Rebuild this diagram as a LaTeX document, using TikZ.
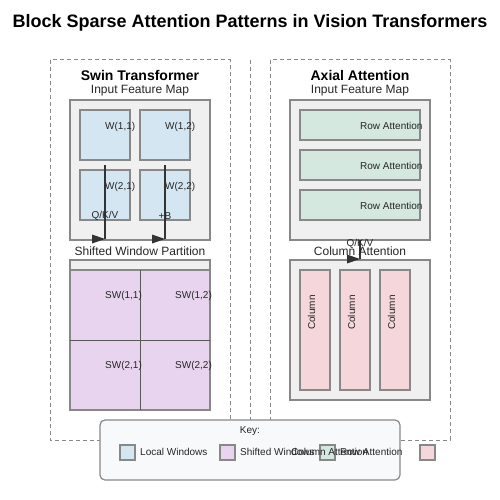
\documentclass[tikz,border=0pt]{standalone}
\usepackage{fontspec}
\setmainfont{Liberation Sans}
\definecolor{winblue}{HTML}{D4E6F1}
\definecolor{winpurple}{HTML}{E8D4EE}
\definecolor{rowgreen}{HTML}{D4E8DF}
\definecolor{colpink}{HTML}{F5D6DA}
\definecolor{boxgrey}{HTML}{F0F0F0}
\definecolor{strokegrey}{HTML}{888888}
\definecolor{darkline}{HTML}{333333}
\definecolor{legendfill}{HTML}{F8F9FA}
\begin{document}
\begin{tikzpicture}[x=1pt,y=-1pt,
  panel/.style={draw=strokegrey, line width=1pt, dash pattern=on 4pt off 3pt},
  greybox/.style={draw=strokegrey, fill=boxgrey, line width=1.5pt, inner sep=0pt},
  winbox/.style={draw=strokegrey, fill=winblue, line width=1.2pt, inner sep=0pt, minimum width=50, minimum height=50},
  swbox/.style={fill=winpurple, inner sep=0pt, minimum width=70, minimum height=70},
  rowbox/.style={draw=strokegrey, fill=rowgreen, line width=1.2pt, inner sep=0pt, minimum width=120, minimum height=30},
  colbox/.style={draw=strokegrey, fill=colpink, line width=1.2pt, inner sep=0pt, minimum width=30, minimum height=120},
  keybox/.style={draw=strokegrey, line width=1.2pt, inner sep=0pt, minimum width=15, minimum height=15},
  lbl/.style={inner sep=0pt, font=\fontsize{10}{12}\selectfont, text=black!85},
  head/.style={inner sep=0pt, font=\fontsize{14}{16}\selectfont\bfseries},
  sub/.style={inner sep=0pt, font=\fontsize{12}{14}\selectfont, text=black!85},
  arrowline/.style={draw=darkline, line width=1.5pt},
  tip/.style={fill=darkline},
  divline/.style={draw=black!65, line width=1.2pt}
]
\useasboundingbox (0,0) rectangle (500,500);
\fill[white] (0,0) rectangle (500,500);

% title
\node[inner sep=0pt, font=\fontsize{18}{21}\selectfont\bfseries] (title) at (250,23) {Block Sparse Attention Patterns in Vision Transformers};

% panels
\draw[panel] (50,60) rectangle (230,440);
\draw[panel] (270,60) rectangle (450,440);
\coordinate (divtop) at (250,60);
\coordinate (divbot) at (250,440);
\draw[panel] (divtop) -- (divbot);

% ---------- Swin ----------
\node[head] (swinhead) at (140,75) {Swin Transformer};
\node[sub] (swinin) at (140,91) {Input Feature Map};
\node[greybox, minimum width=140, minimum height=140] (swingrid) at (140,170) {};
\node[winbox] (w11) at (105,135) {};
\node[winbox] (w12) at (165,135) {};
\node[winbox] (w21) at (105,195) {};
\node[winbox] (w22) at (165,195) {};
\node[lbl, anchor=west] (lw11) at (105,127) {W(1,1)};
\node[lbl, anchor=west] (lw12) at (165,127) {W(1,2)};
\node[lbl, anchor=west] (lw21) at (105,187) {W(2,1)};
\node[lbl, anchor=west] (lw22) at (165,187) {W(2,2)};

\coordinate (a1s) at (105,165);
\coordinate (a1e) at (105,239);
\coordinate (a2s) at (165,165);
\coordinate (a2e) at (165,239);
\draw[arrowline] (a1s) -- (a1e);
\draw[arrowline] (a2s) -- (a2e);
\fill[tip] (92,234.5) -- (a1e) -- (92,243.5) -- cycle;
\fill[tip] (152,234.5) -- (a2e) -- (152,243.5) -- cycle;
\node[lbl] (qkv1) at (105,216) {Q/K/V};
\node[lbl] (bias) at (165,216) {+B};

\node[sub] (shiftlbl) at (140,251) {Shifted Window Partition};
\node[greybox, minimum width=140, minimum height=150] (shiftgrid) at (140,335) {};
\node[swbox] (sw11) at (105,305) {};
\node[swbox] (sw12) at (175,305) {};
\node[swbox] (sw21) at (105,375) {};
\node[swbox] (sw22) at (175,375) {};
\draw[strokegrey, line width=1.5pt] (sw11.north west) -- (sw12.north east) -- (sw22.south east) -- (sw21.south west) -- cycle;
\draw[divline] (sw11.north east) -- (sw21.south east);
\draw[divline] (sw11.south west) -- (sw12.south east);
\node[lbl, anchor=west] (lsw11) at (105,296) {SW(1,1)};
\node[lbl, anchor=west] (lsw12) at (175,296) {SW(1,2)};
\node[lbl, anchor=west] (lsw21) at (105,366) {SW(2,1)};
\node[lbl, anchor=west] (lsw22) at (175,366) {SW(2,2)};

% ---------- Axial ----------
\node[head] (axhead) at (360,75) {Axial Attention};
\node[sub] (axin) at (360,91) {Input Feature Map};
\node[greybox, minimum width=140, minimum height=140] (rowgrid) at (360,170) {};
\node[rowbox] (r1) at (360,125) {};
\node[rowbox] (r2) at (360,165) {};
\node[rowbox] (r3) at (360,205) {};
\node[lbl, anchor=west] (lr1) at (360,126) {Row Attention};
\node[lbl, anchor=west] (lr2) at (360,166) {Row Attention};
\node[lbl, anchor=west] (lr3) at (360,206) {Row Attention};

\node[greybox, minimum width=140, minimum height=140] (colgrid) at (360,330) {};
\node[colbox] (c1) at (315,330) {};
\node[colbox] (c2) at (355,330) {};
\node[colbox] (c3) at (395,330) {};
\node[lbl, rotate=90, anchor=base west] (lc1) at (315,330) {Column};
\node[lbl, rotate=90, anchor=base west] (lc2) at (355,330) {Column};
\node[lbl, rotate=90, anchor=base west] (lc3) at (395,330) {Column};

\coordinate (a3s) at (360,240);
\coordinate (a3e) at (360,259);
\draw[arrowline] (a3s) -- (a3e);
\fill[tip] (347,254.5) -- (a3e) -- (347,263.5) -- cycle;
\node[lbl] (qkv2) at (360,244) {Q/K/V};
\node[sub] (collbl) at (360,251) {Column Attention};

% ---------- Legend ----------
\node[draw=strokegrey, fill=legendfill, line width=1.2pt, rounded corners=5pt, minimum width=300, minimum height=60, inner sep=0pt] (legend) at (250,450) {};
\node[lbl] (keyt) at (250,431) {Key:};
\node[keybox, fill=winblue] (k1) at (127.5,452.5) {};
\node[keybox, fill=winpurple] (k2) at (227.5,452.5) {};
\node[keybox, fill=rowgreen] (k3) at (327.5,452.5) {};
\node[keybox, fill=colpink] (k4) at (427.5,452.5) {};
\node[lbl, anchor=west] (kt1) at (140,452) {Local Windows};
\node[lbl, anchor=west] (kt2) at (240,452) {Shifted Windows};
\node[lbl, anchor=west] (kt4) at (291,452) {Column Attention};
\node[lbl, anchor=west] (kt3) at (340,452) {Row Attention};
\end{tikzpicture}
\end{document}
